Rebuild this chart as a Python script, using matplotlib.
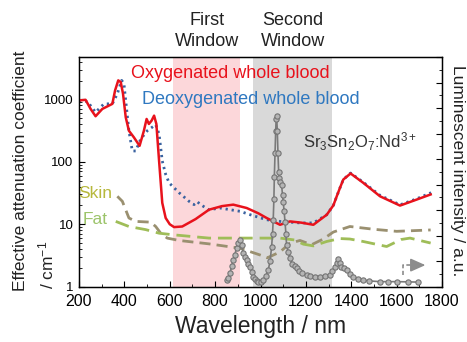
import numpy as np
import matplotlib
matplotlib.use("Agg")
import matplotlib.pyplot as plt
from matplotlib.ticker import FixedLocator, LogLocator, NullFormatter

plt.rcParams['font.family'] = ['Liberation Sans', 'DejaVu Sans']
plt.rcParams['mathtext.fontset'] = 'custom'
plt.rcParams['mathtext.rm'] = 'Liberation Sans'
plt.rcParams['mathtext.it'] = 'Liberation Sans:italic'
plt.rcParams['mathtext.bf'] = 'Liberation Sans:bold'

# ---------------- data ----------------
wl_oxy = [200, 229, 251, 273, 303, 318, 347, 359, 373, 384, 394, 406, 420, 442, 467, 486,
          498, 508, 520, 531, 541, 553, 567, 582, 600, 619, 655, 714, 773, 830, 880, 939,
          990, 1027, 1086, 1130, 1180, 1233, 1292, 1321, 1336, 1350, 1365, 1397, 1453,
          1527, 1615, 1688, 1750]
oxy = [957, 982, 703, 536, 703, 748, 846, 1387, 2010, 1890, 1227, 516, 314, 246, 180, 314,
       485, 403, 456, 548, 403, 103, 22, 12.6, 10, 9.0, 9.2, 12.1, 17.1, 19.5, 20.6, 18.2,
       15, 12.6, 9.8, 11.1, 10.6, 9.8, 14.2, 20, 28, 38, 52, 65, 46,
       28, 19.9, 24.8, 30]

wl_deoxy = [200, 237, 273, 310, 347, 369, 388, 398, 409, 420, 435, 450, 472, 501, 538, 553,
            567, 582, 597, 641, 685, 707, 721, 736, 773, 821, 870, 910, 960, 1027, 1086,
            1174, 1233, 1292, 1321, 1350, 1365, 1397, 1453, 1527, 1615, 1688, 1752]
deoxy = [957, 925, 621, 846, 846, 1227, 2010, 1790, 748, 314, 149, 149, 231, 314, 393, 278,
         103, 63, 46, 32, 23.3, 20.6, 23, 20.6, 17, 18.2, 17, 16.1, 14, 11.8, 11.1,
         10.5, 10.5, 14.2, 20, 38, 52, 66, 47, 29, 20.5, 25.5, 32]

wl_skin = [369, 391, 420, 450, 516, 538, 560, 589, 641, 773, 910, 998, 1030, 1086, 1130,
           1174, 1225, 1277, 1321, 1394, 1500, 1600, 1750]
skin = [28, 23.3, 12.6, 11.1, 10.8, 9.2, 7.2, 6.0, 5.5, 4.85, 4.13, 3.22, 2.9, 3.6, 4.97,
        5.5, 4.7, 5.8, 7.5, 9.2, 8.3, 7.7, 8.1]

wl_fat = [362, 420, 494, 552, 611, 773, 910, 1086, 1150, 1189, 1233, 1292, 1350, 1394,
          1452, 1556, 1620, 1659, 1750]
fat = [11.1, 9.2, 8.2, 7.2, 6.8, 6.0, 6.0, 6.0, 5.6, 4.8, 4.5, 5.3, 5.9, 5.8,
       5.3, 4.4, 5.7, 6.0, 5.0]

wl_lum = [851, 858, 866, 873, 880, 887, 895, 902, 910, 917, 924, 932, 939, 946, 954, 961,
          968, 976, 983, 990, 1000, 1012, 1023, 1034, 1042, 1049, 1053, 1056, 1059, 1061,
          1064, 1067, 1069, 1071, 1074, 1077, 1080, 1083, 1088, 1093, 1097, 1100, 1104,
          1108, 1112, 1115, 1122, 1130, 1140, 1150, 1159, 1170, 1185, 1203, 1220, 1240,
          1262, 1285, 1306, 1317, 1328, 1336, 1343, 1350, 1357, 1368, 1380, 1395, 1409,
          1430, 1453, 1480, 1527, 1560, 1600, 1650, 1695]
lum = [0.03, 0.04, 0.06, 0.09, 0.116, 0.14, 0.17, 0.19, 0.203, 0.18, 0.145, 0.13, 0.116,
       0.10, 0.087, 0.065, 0.044, 0.032, 0.025, 0.022, 0.02, 0.029, 0.045, 0.073, 0.11,
       0.174, 0.23, 0.29, 0.38, 0.479, 0.58, 0.68, 0.73, 0.745, 0.68, 0.58, 0.5, 0.472,
       0.455, 0.443, 0.40, 0.37, 0.33, 0.283, 0.23, 0.18, 0.15, 0.124, 0.10, 0.09, 0.08,
       0.07, 0.058, 0.05, 0.046, 0.044, 0.044, 0.045, 0.05, 0.07, 0.087, 0.105, 0.119,
       0.105, 0.087, 0.08, 0.073, 0.055, 0.044, 0.035, 0.029, 0.025, 0.022, 0.022, 0.022,
       0.021, 0.02]

first_window = (615, 910)
second_window = (967, 1313)

# ---------------- figure ----------------
W, H = 467, 342
fig = plt.figure(figsize=(W / 100, H / 100), dpi=100)
ax = fig.add_axes([79 / W, 1 - 286.7 / H, (442 - 79) / W, (286.7 - 57) / H])

ax.axvspan(*first_window, color='#fcd7da', lw=0, zorder=0)
ax.axvspan(*second_window, color='#d9d9d9', lw=0, zorder=0)

ax.plot(wl_skin, skin, color='#9a9070', lw=2.0, ls=(0, (4, 2.2)), zorder=2)
ax.plot(wl_fat, fat, color='#9fbd58', lw=2.0, ls=(0, (5, 2.5)), zorder=2)
ax.plot(wl_deoxy, deoxy, color='#3a62a0', lw=2.0, ls=(0, (0.8, 1.4)), zorder=3)
ax.plot(wl_oxy, oxy, color='#e8121c', lw=1.8, zorder=4)

ax.set_yscale('log')
ax.set_xlim(200, 1800)
ax.set_ylim(1, 4760)
ax.set_xticks([200, 400, 600, 800, 1000, 1200, 1400, 1600, 1800])
ax.set_xticks([300, 500, 700, 900, 1100, 1300, 1500, 1700], minor=True)
ax.yaxis.set_major_locator(FixedLocator([1, 10, 100, 1000]))
ax.set_yticklabels(['1', '10', '100', '1000'])
ax.yaxis.set_minor_locator(LogLocator(base=10, subs=np.arange(2, 10)))
ax.yaxis.set_minor_formatter(NullFormatter())
ax.tick_params(axis='both', which='both', direction='in', top=False, right=False)
ax.tick_params(axis='x', which='major', labelsize=11.5, length=4, pad=5.5)
ax.tick_params(axis='x', which='minor', length=2.5)
ax.tick_params(axis='y', which='major', labelsize=9.5, length=4, pad=4)
ax.tick_params(axis='y', which='minor', length=2.5)
for s in ax.spines.values():
    s.set_linewidth(1.0)

# right axis: luminescence
ax2 = ax.twinx()
ax2.set_position(ax.get_position())
ax2.plot(wl_lum, lum, color='#7a7a7a', lw=1.2, marker='o', ms=3.8,
         mfc='#b4b4b4', mec='#747474', mew=0.8, zorder=5)
ax2.set_ylim(0, 1)
ax2.yaxis.set_major_locator(FixedLocator(np.linspace(0, 1, 10)))
ax2.yaxis.set_minor_locator(FixedLocator(np.linspace(0, 1, 19)))
ax2.tick_params(axis='y', which='both', direction='in', labelright=False)
ax2.tick_params(axis='y', which='major', length=4)
ax2.tick_params(axis='y', which='minor', length=2.5)

# dashed arrow pointing to right axis
ax2.plot([0.893, 0.893, 0.915], [0.051, 0.094, 0.094], transform=ax2.transAxes,
         color='#8c8c8c', lw=1.2, ls=(0, (2.5, 1.5)), zorder=6)
ax2.annotate('', xy=(0.962, 0.094), xytext=(0.91, 0.094), xycoords='axes fraction',
             arrowprops=dict(arrowstyle='-|>,head_length=0.9,head_width=0.4',
                             color='#8c8c8c', lw=1.2))

# texts
fig.text(131 / W, 1 - 73 / H, 'Oxygenated whole blood', color='#e8121c', fontsize=13,
         ha='left', va='center')
fig.text(142 / W, 1 - 99 / H, 'Deoxygenated whole blood', color='#2f78c0', fontsize=13,
         ha='left', va='center')
fig.text(303 / W, 1 - 142 / H, 'Sr$_3$Sn$_2$O$_7$:Nd$^{3+}$', color='#333333',
         fontsize=12, ha='left', va='center')
fig.text(78 / W, 1 - 193 / H, 'Skin', color='#b7b83c', fontsize=12.5, ha='left', va='center')
fig.text(83 / W, 1 - 220 / H, 'Fat', color='#9cc46a', fontsize=12.5, ha='left', va='center')
fig.text(207 / W, 1 - 31 / H, 'First\nWindow', color='#222222', fontsize=13,
         ha='center', va='center', linespacing=1.25)
fig.text(293 / W, 1 - 31 / H, 'Second\nWindow', color='#222222', fontsize=13,
         ha='center', va='center', linespacing=1.25)

fig.text(21 / W, 1 - 171 / H, 'Effective attenuation coefficient',
         rotation=90, ha='center', va='center', fontsize=12.5, color='#222222')
fig.text(46 / W, 1 - 289 / H, '/ cm$^{-1}$',
         rotation=90, ha='center', va='bottom', fontsize=12.5, color='#222222')
fig.text(458 / W, 1 - 171 / H, 'Luminescent intensity / a.u.', rotation=270,
         ha='center', va='center', fontsize=12.5, color='#222222')
fig.text(260.5 / W, 1 - 327 / H, 'Wavelength / nm', ha='center', va='center',
         fontsize=16.5, color='#222222')

fig.savefig('out.png', dpi=100)
